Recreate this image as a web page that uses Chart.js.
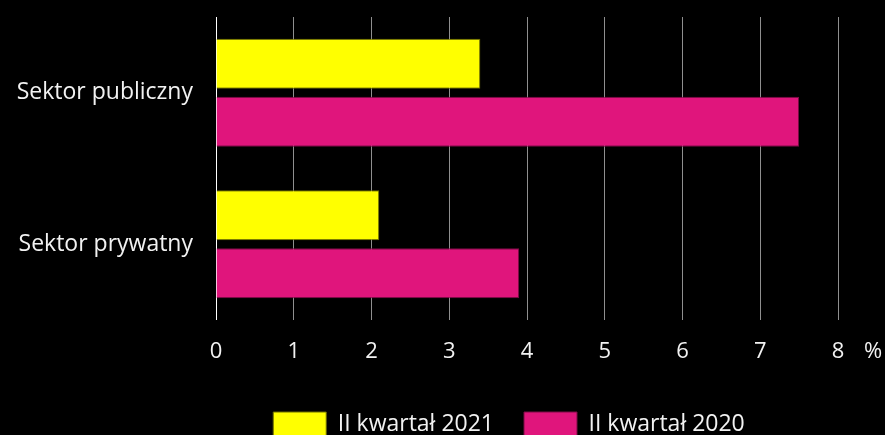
<!DOCTYPE html>
<html>
<head>
<meta charset="utf-8">
<script src="https://cdn.jsdelivr.net/npm/chart.js@4"></script>
<style>
html,body{margin:0;padding:0;background:#000;overflow:hidden;}
#wrap{width:885px;height:435px;position:relative;overflow:hidden;}
</style>
</head>
<body>
<div id="wrap"><canvas id="c" width="885" height="447"></canvas></div>
<script>
const categories = ["Sektor publiczny", "Sektor prywatny"];
const seriesNames = ["II kwartał 2021", "II kwartał 2020"];
const values2021 = [3.4, 2.1];
const values2020 = [7.5, 3.9];
const xTicks = [0, 1, 2, 3, 4, 5, 6, 7, 8];
const unitLabel = "%";

const FONT = "'Open Sans', 'Noto Sans', sans-serif";
const TXT = "#f2f2f2";

const unitPlugin = {
  id: 'unit',
  afterLayout(chart) {
    const lg = chart.legend;
    lg.left -= 18; lg.right -= 18;
  },
  afterDraw(chart) {
    const x = chart.scales.x;
    const ctx = chart.ctx;
    ctx.save();
    ctx.font = "22px " + FONT;
    ctx.fillStyle = TXT;
    ctx.textAlign = 'center';
    ctx.textBaseline = 'middle';
    const px = x.getPixelForValue(xTicks[xTicks.length - 1]) + 35;
    ctx.fillText(unitLabel, px, x.top + 19 + 13.2);
    ctx.restore();
  }
};

new Chart(document.getElementById('c'), {
  type: 'bar',
  data: {
    labels: categories,
    datasets: [
      { label: seriesNames[0], data: values2021, backgroundColor: '#ffff00', borderColor: '#6b6b00', borderWidth: 1, borderSkipped: 'start' },
      { label: seriesNames[1], data: values2020, backgroundColor: '#e0157c', borderColor: '#7a0c44', borderWidth: 1, borderSkipped: 'start' }
    ]
  },
  options: {
    indexAxis: 'y',
    responsive: false,
    animation: false,
    devicePixelRatio: 1,
    layout: { padding: { top: 17, right: 47, left: 10, bottom: 0 } },
    datasets: { bar: { categoryPercentage: 0.766, barPercentage: 0.862 } },
    scales: {
      x: {
        min: 0, max: 8,
        afterBuildTicks(axis) { axis.ticks = xTicks.map(v => ({ value: v })); },
        afterFit(axis) { axis.height = 62; },
        grid: {
          color: ctx => ctx.tick && ctx.tick.value === 0 ? '#ffffff' : '#8f8f8f',
          lineWidth: 1,
          drawTicks: false
        },
        border: { display: false },
        ticks: { color: TXT, font: { size: 22, family: FONT }, padding: 19 }
      },
      y: {
        afterFit(axis) { axis.width = 206; axis.paddingTop = 0; axis.paddingBottom = 0; },
        grid: { display: false, drawTicks: false },
        border: { display: false },
        ticks: { color: TXT, font: { size: 23, family: FONT }, padding: 23 }
      }
    },
    plugins: {
      legend: {
        position: 'bottom',
        fullSize: false,
        labels: {
          color: TXT,
          font: { size: 23, family: FONT },
          boxWidth: 53,
          boxHeight: 25,
          padding: 30
        }
      },
      tooltip: { enabled: false }
    }
  },
  plugins: [unitPlugin]
});
</script>
</body>
</html>
